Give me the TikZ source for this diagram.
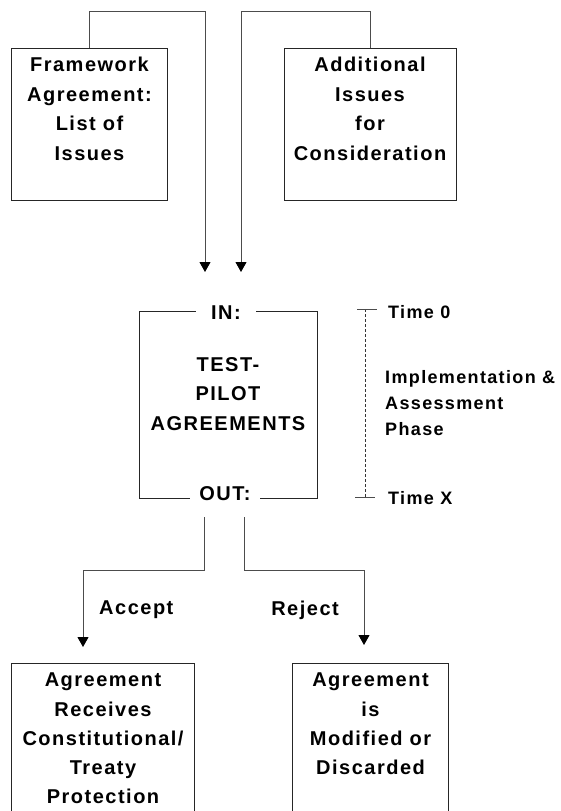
\documentclass[tikz,border=0pt]{standalone}
\usepackage{fontspec}
\setmainfont{Liberation Sans}[LetterSpace=7.5]
\usetikzlibrary{arrows.meta}
\begin{document}
\begin{tikzpicture}[x=1bp,y=-1bp,
  box/.style={draw=black!85, line width=1bp, inner sep=0pt},
  frame/.style={inner sep=0pt},
  side/.style={draw=black!85, line width=1bp},
  conn/.style={draw=black!70, line width=1bp},
  tip/.style={-{Triangle[width=11bp,length=10bp,color=black]}},
  boxtext/.style={inner sep=0pt, align=center, font=\bfseries\fontsize{20bp}{29.6bp}\selectfont},
  lbl/.style={inner sep=0pt, font=\bfseries\fontsize{20bp}{24bp}\selectfont},
  sidelbl/.style={inner sep=0pt, align=left, font=\bfseries\fontsize{18bp}{26bp}\selectfont},
  gaplbl/.style={fill=white, inner ysep=4bp, font=\bfseries\fontsize{20bp}{24bp}\selectfont}
]
\useasboundingbox (0,0) rectangle (561,811);

% top boxes
\node[box, minimum width=155bp, minimum height=151bp] (fw) at (89.5,124.5) {};
\node[boxtext, anchor=north] (fwt) at (89.5,56.8) {Framework\\Agreement:\\List of\\Issues};
\node[box, minimum width=172bp, minimum height=151bp] (add) at (370,124.5) {};
\node[boxtext, anchor=north] (addt) at (370,56.8) {Additional\\Issues\\for\\Consideration};

% incoming connectors
\coordinate (a1) at (205,272);
\coordinate (a2) at (241,272);
\draw[conn,tip] (fw.north) -- ++(0,-37) -| (a1);
\draw[conn,tip] (add.north) -- ++(0,-37) -| (a2);

% central box
\node[box, minimum width=178bp, minimum height=187bp] (tp) at (228,404.5) {};
\node[boxtext, anchor=north] (tpt) at (228,357) {TEST-\\PILOT\\AGREEMENTS};
\node[gaplbl, inner xsep=15.5bp] (in) at (226,313) {IN:};
\node[gaplbl, inner xsep=9.5bp] (out) at (225,494) {OUT:};

% time line
\coordinate (t0) at (365,309);
\coordinate (tx) at (365,497);
\draw[black!80, line width=0.8bp, dashed, dash pattern=on 3bp off 2bp] (t0) -- (tx);
\draw[black!70, line width=1bp] ([xshift=-8bp]t0) -- ([xshift=12bp]t0);
\draw[black!70, line width=1bp] ([xshift=-10bp]tx) -- ([xshift=10bp]tx);
\node[sidelbl, anchor=west] (time0) at (388,312) {Time 0};
\node[sidelbl, anchor=west] (timex) at (388,498) {Time X};
\node[sidelbl, anchor=north west] (phase) at (385,370.6) {Implementation \&\\Assessment\\Phase};

% outgoing connectors
\coordinate (o1) at (204,517);
\coordinate (o2) at (244,517);
\coordinate (a3) at (83,647);
\coordinate (a4) at (364,645);
\draw[conn,tip] (o1) -- ++(0,53) -| (a3);
\draw[conn,tip] (o2) -- ++(0,53) -| (a4);
\node[lbl, anchor=west] (accept) at (99,610) {Accept};
\node[lbl, anchor=east] (reject) at (339,610) {Reject};

% bottom boxes (open at the bottom edge)
\node[frame, minimum width=182bp, minimum height=147bp] (acc) at (103,737.5) {};
\draw[side] (acc.south west) -- (acc.north west) -- (acc.north east) -- (acc.south east);
\node[boxtext, anchor=north, font=\bfseries\fontsize{20bp}{29.3bp}\selectfont] (acct) at (103,672.8) {Agreement\\Receives\\Constitutional/\\Treaty\\Protection};
\node[frame, minimum width=155bp, minimum height=147bp] (rej) at (370.5,737.5) {};
\draw[side] (rej.south west) -- (rej.north west) -- (rej.north east) -- (rej.south east);
\node[boxtext, anchor=north, font=\bfseries\fontsize{20bp}{29.3bp}\selectfont] (rejt) at (370.5,672.8) {Agreement\\is\\Modified or\\Discarded};
\end{tikzpicture}
\end{document}
